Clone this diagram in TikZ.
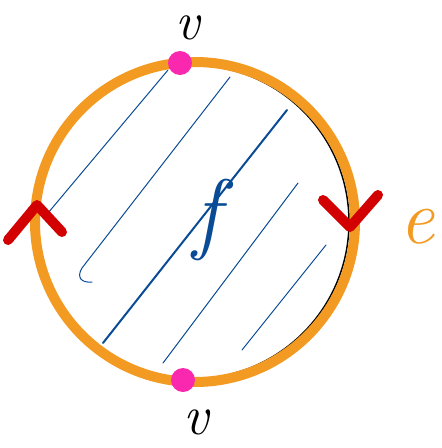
\documentclass[tikz,border=0pt]{standalone}
\usepackage{tikz}
\usetikzlibrary{positioning}
\definecolor{edgeorange}{RGB}{243,154,34}
\definecolor{vertexpink}{RGB}{250,40,175}
\definecolor{faceblue}{RGB}{10,75,150}
\definecolor{arrowred}{RGB}{210,0,0}
\tikzset{
  hatch/.style={faceblue,line width=1pt,line cap=round},
  vdot/.style={circle,fill=vertexpink,inner sep=0pt,minimum size=24pt},
  orient/.style={arrowred,line width=10pt,line cap=round,line join=round},
  hand/.style={inner sep=0pt}
}
\begin{document}
\begin{tikzpicture}[x=1pt,y=-1pt]
  \useasboundingbox (0,0) rectangle (442,448);
  \coordinate (O) at (195,222);
  % shading of the face
  \draw[hatch] (168,70) -- (48,213);
  \draw[hatch] (230,77) -- (82,268) .. controls (76,278) and (82,283) .. (92,282);
  \draw[hatch,line width=2pt] (287,110) -- (103,343);
  \draw[hatch] (298,183) -- (163,363);
  \draw[hatch] (326,245) -- (242,350);
  % the edge
  \draw[black,line width=1.5pt] (192,222) circle (157);
  \draw[edgeorange,line width=10pt] (O) circle (160);
  % orientation
  \draw[orient] (8,240) -- (37,205) -- (62,232);
  \draw[orient] (323,200) -- (350,227) -- (378,195);
  % vertices
  \node[vdot] (vtop) at (180,63) {};
  \node[vdot] (vbot) at (183,380) {};
  \node[hand,font=\fontsize{54}{54}\selectfont\itshape,above=11pt of vtop,xshift=8pt] (vtoplab) {v};
  \node[hand,font=\fontsize{56}{56}\selectfont\itshape,below=17pt of vbot,xshift=13pt] (vbotlab) {v};
  % labels
  \node[hand,font=\fontsize{78}{78}\selectfont\itshape,text=edgeorange] (elab) at (417,227) {e};
  \node[hand,font=\fontsize{90}{90}\selectfont\itshape,text=faceblue] (flab) at (207,220) {f};
\end{tikzpicture}
\end{document}
